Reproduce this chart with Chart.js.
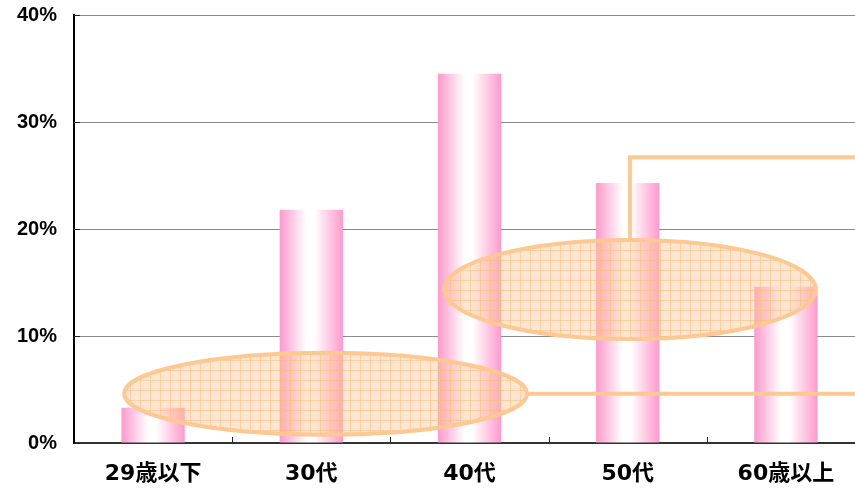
<!DOCTYPE html>
<html>
<head>
<meta charset="utf-8">
<script src="https://cdn.jsdelivr.net/npm/chart.js@4/dist/chart.umd.min.js"></script>
<style>
  html, body { margin: 0; padding: 0; background: #fff; overflow: hidden; }
  #wrap { width: 855px; height: 489px; overflow: hidden; }
</style>
</head>
<body>
<div id="wrap"><canvas id="ageChart" width="865" height="489"></canvas></div>
<script>
const ageGroups = ['29歳以下', '30代', '40代', '50代', '60歳以上'];
const shares = [3.3, 21.8, 34.5, 24.3, 14.6];
const yTicks = [0, 10, 20, 30, 40];

// callout ellipses, in axis units (category index / percent)
const callouts = [
  { cx: 1.09, cy: 4.6, rx: 1.273, ry: 3.83, lineTo: null },
  { cx: 3.014, cy: 14.35, rx: 1.175, ry: 4.63, lineTo: 26.7 }
];

function makePattern(ctx) {
  const c = document.createElement('canvas');
  c.width = 10; c.height = 10;
  const p = c.getContext('2d');
  p.fillStyle = 'rgba(252, 200, 150, 0.45)';
  p.fillRect(0, 0, 10, 10);
  p.fillStyle = 'rgba(250, 185, 120, 0.5)';
  p.fillRect(0, 0, 10, 1);
  p.fillRect(0, 0, 1, 10);
  return ctx.createPattern(c, 'repeat');
}

function barGradient(context) {
  const chart = context.chart;
  const area = chart.chartArea;
  if (!area) return '#ff99cc';
  const xs = chart.scales.x;
  const cx = xs.getPixelForValue(context.dataIndex);
  const w = (area.right - area.left) / ageGroups.length * 0.4;
  const g = chart.ctx.createLinearGradient(cx - w / 2, 0, cx + w / 2, 0);
  g.addColorStop(0, '#ff99cc');
  g.addColorStop(0.42, '#ffffff');
  g.addColorStop(0.55, '#ffffff');
  g.addColorStop(1, '#ff99cc');
  return g;
}

const calloutPlugin = {
  id: 'callouts',
  afterDatasetsDraw(chart) {
    const ctx = chart.ctx;
    const xs = chart.scales.x, ys = chart.scales.y;
    const x0 = xs.getPixelForValue(0);
    const step = xs.getPixelForValue(1) - x0;
    const unit = ys.getPixelForValue(0) - ys.getPixelForValue(1);
    const right = chart.width;
    const pattern = makePattern(ctx);
    ctx.save();
    ctx.strokeStyle = '#fdc891';
    ctx.lineWidth = 4;
    callouts.forEach(c => {
      const px = x0 + c.cx * step;
      const py = ys.getPixelForValue(c.cy);
      const rx = c.rx * step, ry = c.ry * unit;
      ctx.beginPath();
      if (c.lineTo === null) {
        ctx.moveTo(px + rx, py);
        ctx.lineTo(right, py);
      } else {
        const ly = ys.getPixelForValue(c.lineTo);
        ctx.moveTo(px, py - ry);
        ctx.lineTo(px, ly);
        ctx.lineTo(right, ly);
      }
      ctx.stroke();
      ctx.beginPath();
      ctx.ellipse(px, py, rx, ry, 0, 0, Math.PI * 2);
      ctx.fillStyle = pattern;
      ctx.fill();
      ctx.stroke();
    });
    ctx.restore();
  }
};

const innerTicks = {
  id: 'innerTicks',
  afterDraw(chart) {
    const ctx = chart.ctx;
    const a = chart.chartArea;
    const xs = chart.scales.x, ys = chart.scales.y;
    ctx.save();
    ctx.strokeStyle = '#222';
    ctx.lineWidth = 1;
    ctx.beginPath();
    yTicks.forEach(v => {
      const y = Math.round(ys.getPixelForValue(v)) + 0.5;
      ctx.moveTo(a.left, y);
      ctx.lineTo(a.left + 6, y);
    });
    for (let i = 1; i < ageGroups.length; i++) {
      const x = Math.round(xs.getPixelForValue(i - 0.5)) + 0.5;
      ctx.moveTo(x, a.bottom);
      ctx.lineTo(x, a.bottom - 6);
    }
    ctx.stroke();
    ctx.restore();
  }
};

new Chart(document.getElementById('ageChart').getContext('2d'), {
  type: 'bar',
  data: {
    labels: ageGroups,
    datasets: [{
      data: shares,
      backgroundColor: barGradient,
      borderWidth: 0,
      barPercentage: 0.4,
      categoryPercentage: 1
    }]
  },
  options: {
    responsive: false,
    animation: false,
    layout: { padding: { top: 15, right: 0, left: 0, bottom: 0 } },
    plugins: { legend: { display: false }, tooltip: { enabled: false } },
    scales: {
      x: {
        grid: { display: false, drawTicks: false, tickLength: 0 },
        border: { color: '#333', width: 2 },
        ticks: {
          color: '#000',
          padding: 18,
          font: { family: '"DejaVu Sans", "Noto Sans CJK JP", sans-serif', size: 22, weight: 'bold' }
        },
        afterFit: s => { s.height = 46; s.paddingLeft = 0; s.paddingRight = 0; }
      },
      y: {
        min: 0,
        max: 40,
        afterBuildTicks: axis => { axis.ticks = yTicks.map(v => ({ value: v })); },
        grid: { color: '#8a8a8a', lineWidth: 1, drawTicks: false },
        border: { color: '#000', width: 2 },
        ticks: {
          color: '#000',
          padding: 17,
          callback: v => v + '%',
          font: { family: '"Liberation Sans", Arial, sans-serif', size: 20, weight: 'bold' }
        },
        afterFit: s => { s.width = 74; s.paddingTop = 0; s.paddingBottom = 0; }
      }
    }
  },
  plugins: [calloutPlugin, innerTicks]
});
</script>
</body>
</html>
